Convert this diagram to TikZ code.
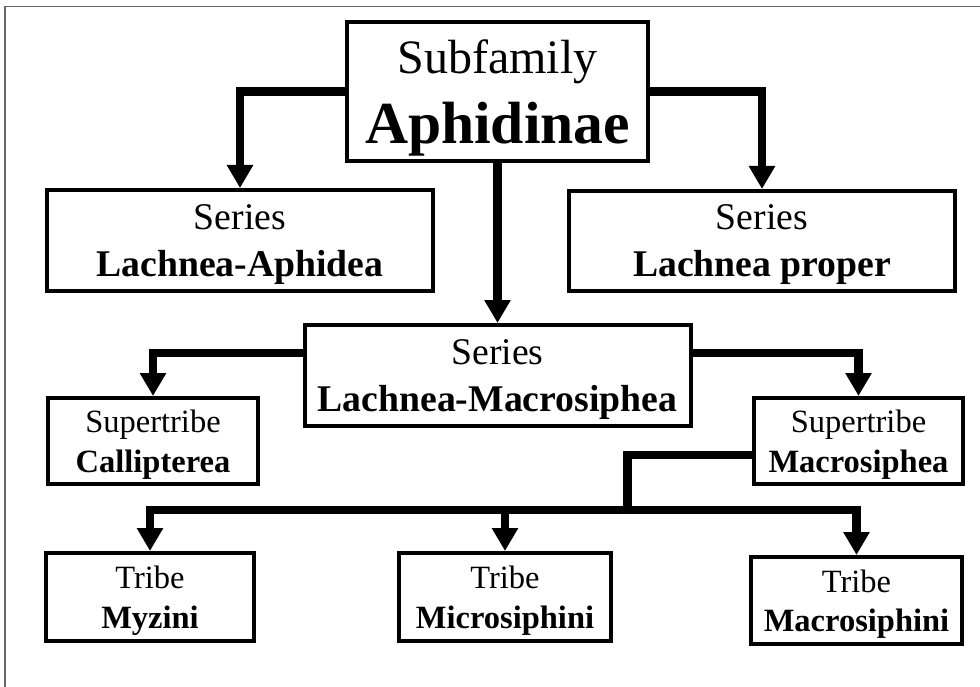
\documentclass[tikz,border=0pt]{standalone}
\usepackage{fontspec}
\setmainfont{Liberation Serif}
\usetikzlibrary{arrows.meta}
\tikzset{
  box/.style={draw, line width=4pt, align=center, text depth=0pt, inner sep=0pt},
  conn/.style={line width=8.3pt, -{Triangle[width=25pt,length=23pt]}},
  link/.style={line width=8.3pt},
  ser/.style={font=\fontsize{37.7}{47}\selectfont},
  trb/.style={font=\fontsize{32.5}{39.5}\selectfont},
  frame/.style={draw=black!60, line width=1.6pt},
}
\begin{document}
\begin{tikzpicture}[x=1pt,y=-1pt]
\useasboundingbox (0,0) rectangle (980,687);
\draw[frame] (5,687) -- (5,6.5) -- (980,6.5);

\node[box, minimum width=301pt, minimum height=139pt, font=\fontsize{48}{70}\selectfont] (top) at (497.5,91.5)
  {Subfamily\\{\fontsize{59.6}{70}\selectfont\bfseries Aphidinae}};
\node[box, ser, minimum width=386pt, minimum height=101pt] (la) at (240,240.5)
  {Series\\\textbf{Lachnea-Aphidea}};
\node[box, ser, minimum width=386pt, minimum height=100pt] (lp) at (762,241)
  {Series\\\textbf{Lachnea proper}};
\node[box, ser, minimum width=386pt, minimum height=101pt] (lm) at (497.5,375.5)
  {Series\\\textbf{Lachnea-Macrosiphea}};
\node[box, trb, minimum width=210pt, minimum height=86pt] (cal) at (153,441)
  {Supertribe\\\textbf{Callipterea}};
\node[box, trb, minimum width=209pt, minimum height=86pt] (mac) at (858.5,441)
  {Supertribe\\\textbf{Macrosiphea}};
\node[box, trb, minimum width=208pt, minimum height=88pt] (myz) at (150,597)
  {Tribe\\\textbf{Myzini}};
\node[box, trb, minimum width=212pt, minimum height=88pt] (mic) at (505,597)
  {Tribe\\\textbf{Microsiphini}};
\node[box, trb, minimum width=211pt, minimum height=87pt] (macs) at (856.5,600.5)
  {Tribe\\\textbf{Macrosiphini}};

\draw[conn] (top.west) -| (la.north);
\draw[conn] (top.east) -| (lp.north);
\draw[conn] (top.south) -- (lm.north);
\draw[conn] ([yshift=22.5pt]lm.west) -| (cal.north);
\draw[conn] ([yshift=22.5pt]lm.east) -| (mac.north);

\coordinate (bus) at (627.5,510);
\draw[link] ([yshift=-14pt]mac.west) -| (bus);
\draw[conn] (bus) -| (myz.north);
\draw[conn] (bus) -| (macs.north);
\draw[conn] (mic.north |- bus) -- (mic.north);
\end{tikzpicture}
\end{document}
